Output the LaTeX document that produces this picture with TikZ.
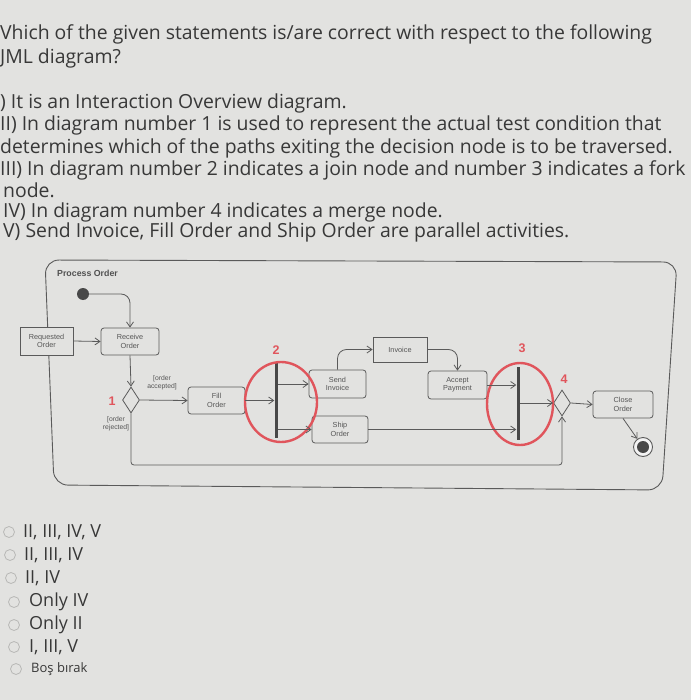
\documentclass[tikz,border=0pt]{standalone}
\usepackage{fontspec}
\setmainfont{Open Sans}
\newfontfamily\diag{Liberation Sans}
\usetikzlibrary{arrows.meta,shapes.geometric,calc}
\definecolor{bg}{HTML}{E2E2E0}
\definecolor{txt}{HTML}{383838}
\definecolor{ln}{HTML}{5A5A5A}
\definecolor{dtxt}{HTML}{555555}
\definecolor{redc}{HTML}{E0555C}
\definecolor{radio}{HTML}{B8B8B6}
\tikzset{
  qline/.style={anchor=west,inner sep=0pt,text=txt,font=\fontsize{19.4}{22}\selectfont},
  opt/.style={anchor=west,inner sep=0pt,text=txt,font=\fontsize{18}{20}\selectfont},
  rad/.style={circle,draw=radio,line width=0.8pt,minimum size=11pt,inner sep=0pt},
  act/.style={draw=ln,line width=0.8pt,rounded corners=3pt,align=center,inner sep=0pt,text=dtxt,font=\diag\fontsize{7.3}{8.3}\selectfont},
  obj/.style={draw=ln,line width=0.8pt,fill=bg,align=center,inner sep=0pt,text=dtxt,font=\diag\fontsize{7.3}{8.3}\selectfont},
  bar/.style={fill=ln!80!black,inner sep=0pt,minimum width=3pt},
  dia/.style={diamond,draw=ln,line width=0.8pt,fill=bg,inner sep=0pt,minimum width=17pt,minimum height=26pt,aspect=0.65},
  flow/.style={draw=ln,line width=0.8pt,-{Straight Barb[length=5pt,width=7pt]}},
  guard/.style={align=center,inner sep=0pt,text=dtxt,font=\diag\fontsize{6.8}{7.6}\selectfont},
  num/.style={inner sep=0pt,text=redc,font=\diag\bfseries\fontsize{12.5}{13}\selectfont},
  ring/.style={draw=redc,line width=2.4pt}
}
\begin{document}
\begin{tikzpicture}[x=1pt,y=-1pt]
\useasboundingbox (0,0) rectangle (691,700);
\fill[bg] (0,0) rectangle (691,700);

% question
\node[qline] (q1) at (0,34) {Vhich of the given statements is/are correct with respect to the following};
\node[qline] (q2) at (0,58) {JML diagram?};
\node[qline] (q3) at (0,103) {) It is an Interaction Overview diagram.};
\node[qline] (q4) at (0,125) {II) In diagram number 1 is used to represent the actual test condition that};
\node[qline] (q5) at (0,148) {determines which of the paths exiting the decision node is to be traversed.};
\node[qline] (q6) at (0,170) {III) In diagram number 2 indicates a join node and number 3 indicates a fork};
\node[qline] (q7) at (3,190) {node.};
\node[qline] (q8) at (3,212) {IV) In diagram number 4 indicates a merge node.};
\node[qline] (q9) at (3,232) {V) Send Invoice, Fill Order and Ship Order are parallel activities.};

% frame
\draw[ln,line width=0.9pt,rounded corners=14pt] (45,260) -- (677,262) -- (662,490) -- (54,485) -- cycle;
\node[anchor=west,inner sep=0pt,text=ln!90!black,font=\diag\bfseries\fontsize{8.8}{10}\selectfont] (title) at (57,273) {Process Order};

% nodes
\node[circle,fill=ln!80!black,minimum size=12pt,inner sep=0pt] (init) at (83,294) {};
\node[obj,minimum width=53pt,minimum height=28pt] (req) at (46.5,341) {Requested\\Order};
\node[act,minimum width=58pt,minimum height=27pt] (rcv) at (130,341.5) {Receive\\Order};
\node[dia] (dec1) at (131,400) {};
\node[num] (n1) at (112,401) {1};
\node[guard] (g1) at (162,383) {[order\\accepted]};
\node[guard] (g2) at (116,424) {[order\\rejected]};
\node[act,minimum width=57pt,minimum height=27pt] (fill) at (216.5,400.5) {Fill\\Order};
\node[bar,minimum height=76pt] (fork2) at (276,400) {};
\node[act,minimum width=57pt,minimum height=28pt] (send) at (337.5,384) {Send\\Invoice};
\node[act,minimum width=56pt,minimum height=27pt] (ship) at (340,429.5) {Ship\\Order};
\node[obj,minimum width=54pt,minimum height=25pt] (inv) at (400,349.5) {Invoice};
\node[act,minimum width=59pt,minimum height=28pt] (acc) at (457.5,385) {Accept\\Payment};
\node[bar,minimum height=73pt] (join3) at (518,403.5) {};
\node[dia] (merge4) at (562,403) {};
\node[act,minimum width=60pt,minimum height=27pt] (close) at (623,404.5) {Close\\Order};
\node[circle,draw=ln,line width=0.9pt,fill=white!60!bg,minimum size=19pt,inner sep=0pt] (fin) at (643,447) {};
\node[circle,fill=ln!80!black,minimum size=12pt,inner sep=0pt] (finin) at (fin) {};
\coordinate (bl) at (131,465);

% numbers and rings
\node[num] (n2) at (276,350) {2};
\node[num] (n3) at (522,348) {3};
\node[num] (n4) at (564,379) {4};
\draw[ring] (281,402) ellipse (36 and 40);
\draw[ring] (520,404) ellipse (33 and 41);

% flows
\draw[flow,rounded corners=9pt] (init.east) -| (rcv.north);
\draw[flow] (req.east) -- (rcv.west);
\draw[flow] (rcv.south) -- (dec1.north);
\draw[flow] (dec1.east) -- (fill.west);
\draw[flow,rounded corners=3pt] (dec1.south) -- (bl) -| (merge4.south);
\draw[flow] (fill.east) -- (fill.east -| fork2.west);
\draw[flow] (send.west -| fork2.east) -- (send.west);
\draw[flow] (ship.west -| fork2.east) -- (ship.west);
\draw[flow,rounded corners=9pt] (send.north) |- (inv.west);
\draw[flow,rounded corners=9pt] (inv.east) -| (acc.north);
\draw[flow] (acc.east) -- (acc.east -| join3.west);
\draw[flow] (ship.east) -- (ship.east -| join3.west);
\draw[flow] (merge4.west -| join3.east) -- (merge4.west);
\draw[flow] (merge4.east) -- (close.west);
\draw[flow] (close.south) -- (fin);

% options
\node[rad] (r1) at (9,532) {};
\node[opt] (o1) at (23,532) {II, III, IV, V};
\node[rad] (r2) at (10,555) {};
\node[opt] (o2) at (24,555) {II, III, IV};
\node[rad] (r3) at (11,578) {};
\node[opt] (o3) at (25,578) {II, IV};
\node[rad] (r4) at (14,602) {};
\node[opt] (o4) at (29,602) {Only IV};
\node[rad] (r5) at (14,625) {};
\node[opt] (o5) at (29,625) {Only II};
\node[rad] (r6) at (14,647) {};
\node[opt] (o6) at (29,647) {I, III, V};
\node[rad] (r7) at (16,669) {};
\node[anchor=west,inner sep=0pt,text=txt,font=\fontsize{13}{15}\selectfont] (o7) at (31,669) {Boş bırak};
\end{tikzpicture}
\end{document}
